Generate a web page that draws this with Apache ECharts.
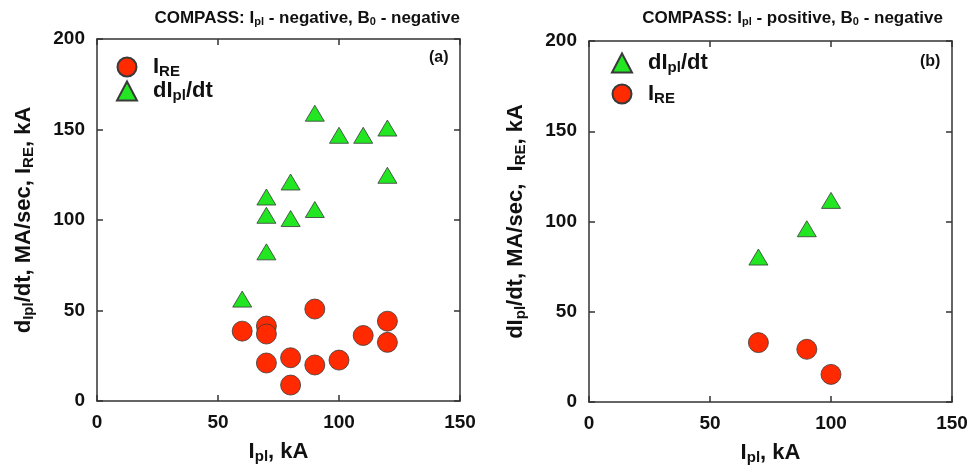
<!DOCTYPE html>
<html>
<head>
<meta charset="utf-8">
<script src="https://cdn.jsdelivr.net/npm/echarts@6/dist/echarts.min.js"></script>
<style>html,body{margin:0;padding:0;background:#fff;}#c{width:972px;height:470px;}</style>
</head>
<body>
<div id="c"></div>
<script>
// ---- data: panel (a) Ipl negative, B0 negative ----
const aIreX = [60, 70, 70, 70, 80, 80, 90, 90, 100, 110, 120, 120];
const aIreY = [38.6, 41.4, 37, 21, 23.9, 8.8, 50.8, 19.9, 22.6, 36.2, 44.1, 32.4];
const aDidtX = [60, 70, 70, 70, 80, 80, 90, 90, 100, 110, 120, 120];
const aDidtY = [56.3, 82.4, 102.6, 112.7, 100.8, 121, 105.8, 159, 146.8, 146.8, 150.8, 124.7];
// ---- data: panel (b) Ipl positive, B0 negative ----
const bDidtX = [70, 90, 100];
const bDidtY = [80.3, 96, 111.7];
const bIreX = [70, 90, 100];
const bIreY = [32.9, 29.2, 15.3];
// ---- axes ----
const xTicks = [0, 50, 100, 150];
const yTicks = [0, 50, 100, 150, 200];

const FONT = 'Liberation Sans';
const RED = '#ff2a00', GREEN = '#22e622', EDGE = '#3a3a3a';
const pairs = (xs, ys) => xs.map((x, i) => [x, ys[i]]);

const richBase = {
  m: {fontSize: 22, fontWeight: 'bold', fontFamily: FONT, color: '#111', lineHeight: 22},
  s: {fontSize: 15, fontWeight: 'bold', fontFamily: FONT, color: '#111', padding: [9, 0, 0, 0], lineHeight: 15},
  g: {width: 11}
};
const titleRich = {
  m: {fontSize: 17, fontWeight: 'bold', fontFamily: FONT, color: '#111'},
  s: {fontSize: 11, fontWeight: 'bold', fontFamily: FONT, color: '#111', padding: [6, 0, 0, 0]}
};

function xAx(gi, pos, show) {
  return {
    type: 'value', gridIndex: gi, position: pos, min: xTicks[0], max: xTicks[xTicks.length - 1], interval: 50,
    axisLine: {show: true, onZero: false, lineStyle: {color: '#333', width: 1.5}},
    axisTick: {show: true, inside: true, length: 6, lineStyle: {color: '#333', width: 1.5}},
    splitLine: {show: false},
    axisLabel: {show: show, fontSize: 19, fontWeight: 'bold', fontFamily: FONT, color: '#111', margin: 12},
    name: show ? '{m|I}{s|pl}{m|, kA}' : '', nameLocation: 'middle', nameGap: 40,
    nameTextStyle: {rich: richBase}
  };
}
function yAx(gi, pos, show, name) {
  return {
    type: 'value', gridIndex: gi, position: pos, min: yTicks[0], max: yTicks[yTicks.length - 1], interval: 50,
    axisLine: {show: true, onZero: false, lineStyle: {color: '#333', width: 1.5}},
    axisTick: {show: true, inside: true, length: 6, lineStyle: {color: '#333', width: 1.5}},
    splitLine: {show: false},
    axisLabel: {show: show, fontSize: 19, fontWeight: 'bold', fontFamily: FONT, color: '#111', margin: 12},
    name: show ? name : '', nameLocation: 'middle', nameGap: 62,
    nameTextStyle: {rich: richBase}
  };
}

const legendFmt = n => n === 'IRE' ? '{g|}{m|I}{s|RE}' : '{g|}{m|dI}{s|pl}{m|/dt}';

const chart = echarts.init(document.getElementById('c'), null, {renderer: 'canvas'});
chart.setOption({
  animation: false,
  backgroundColor: '#fff',
  title: [
    {text: '{m|COMPASS: I}{s|pl}{m| - negative, B}{s|0}{m| - negative}', right: 507, top: 5,
     textStyle: {rich: titleRich}},
    {text: '{m|COMPASS: I}{s|pl}{m| - positive, B}{s|0}{m| - negative}', right: 24, top: 5,
     textStyle: {rich: titleRich}}
  ],
  grid: [
    {left: 97, top: 39, width: 363, height: 362},
    {left: 589, top: 41, width: 363, height: 361}
  ],
  xAxis: [xAx(0, 'bottom', true), xAx(0, 'top', false), xAx(1, 'bottom', true), xAx(1, 'top', false)],
  yAxis: [
    yAx(0, 'left', true, '{m|d}{s|Ipl}{m|/dt, MA/sec, I}{s|RE}{m|, kA}'), yAx(0, 'right', false),
    yAx(1, 'left', true, '{m|dI}{s|pl}{m|/dt, MA/sec,  I}{s|RE}{m|, kA}'), yAx(1, 'right', false)
  ],
  legend: [
    {data: [{name: 'IRE', icon: 'circle'}, {name: 'dIpl/dt', icon: 'triangle'}], orient: 'vertical',
     left: 111, top: 50, itemWidth: 20, itemHeight: 19, itemGap: 0, formatter: legendFmt,
     textStyle: {rich: richBase}, selectedMode: false},
    {data: [{name: 'dIpl/dt', icon: 'triangle'}, {name: 'IRE', icon: 'circle'}], orient: 'vertical',
     left: 606, top: 46, itemWidth: 20, itemHeight: 19, itemGap: 7, formatter: legendFmt,
     textStyle: {rich: richBase}, selectedMode: false}
  ],
  graphic: [
    {type: 'text', left: 429, top: 50, style: {text: '(a)', font: 'bold 16px "Liberation Sans"', fill: '#111'}},
    {type: 'text', left: 920, top: 54, style: {text: '(b)', font: 'bold 16px "Liberation Sans"', fill: '#111'}}
  ],
  series: [
    {name: 'dIpl/dt', type: 'scatter', xAxisIndex: 0, yAxisIndex: 0, symbol: 'triangle', symbolSize: [19, 16],
     data: pairs(aDidtX, aDidtY), itemStyle: {color: GREEN, borderColor: EDGE, borderWidth: 0.8, opacity: 1}},
    {name: 'IRE', type: 'scatter', xAxisIndex: 0, yAxisIndex: 0, symbol: 'circle', symbolSize: 20,
     data: pairs(aIreX, aIreY), itemStyle: {color: RED, borderColor: EDGE, borderWidth: 0.8, opacity: 1}},
    {name: 'dIpl/dt', type: 'scatter', xAxisIndex: 2, yAxisIndex: 2, symbol: 'triangle', symbolSize: [19, 16],
     data: pairs(bDidtX, bDidtY), itemStyle: {color: GREEN, borderColor: EDGE, borderWidth: 0.8, opacity: 1}},
    {name: 'IRE', type: 'scatter', xAxisIndex: 2, yAxisIndex: 2, symbol: 'circle', symbolSize: 20,
     data: pairs(bIreX, bIreY), itemStyle: {color: RED, borderColor: EDGE, borderWidth: 0.8, opacity: 1}}
  ]
});
</script>
</body>
</html>
